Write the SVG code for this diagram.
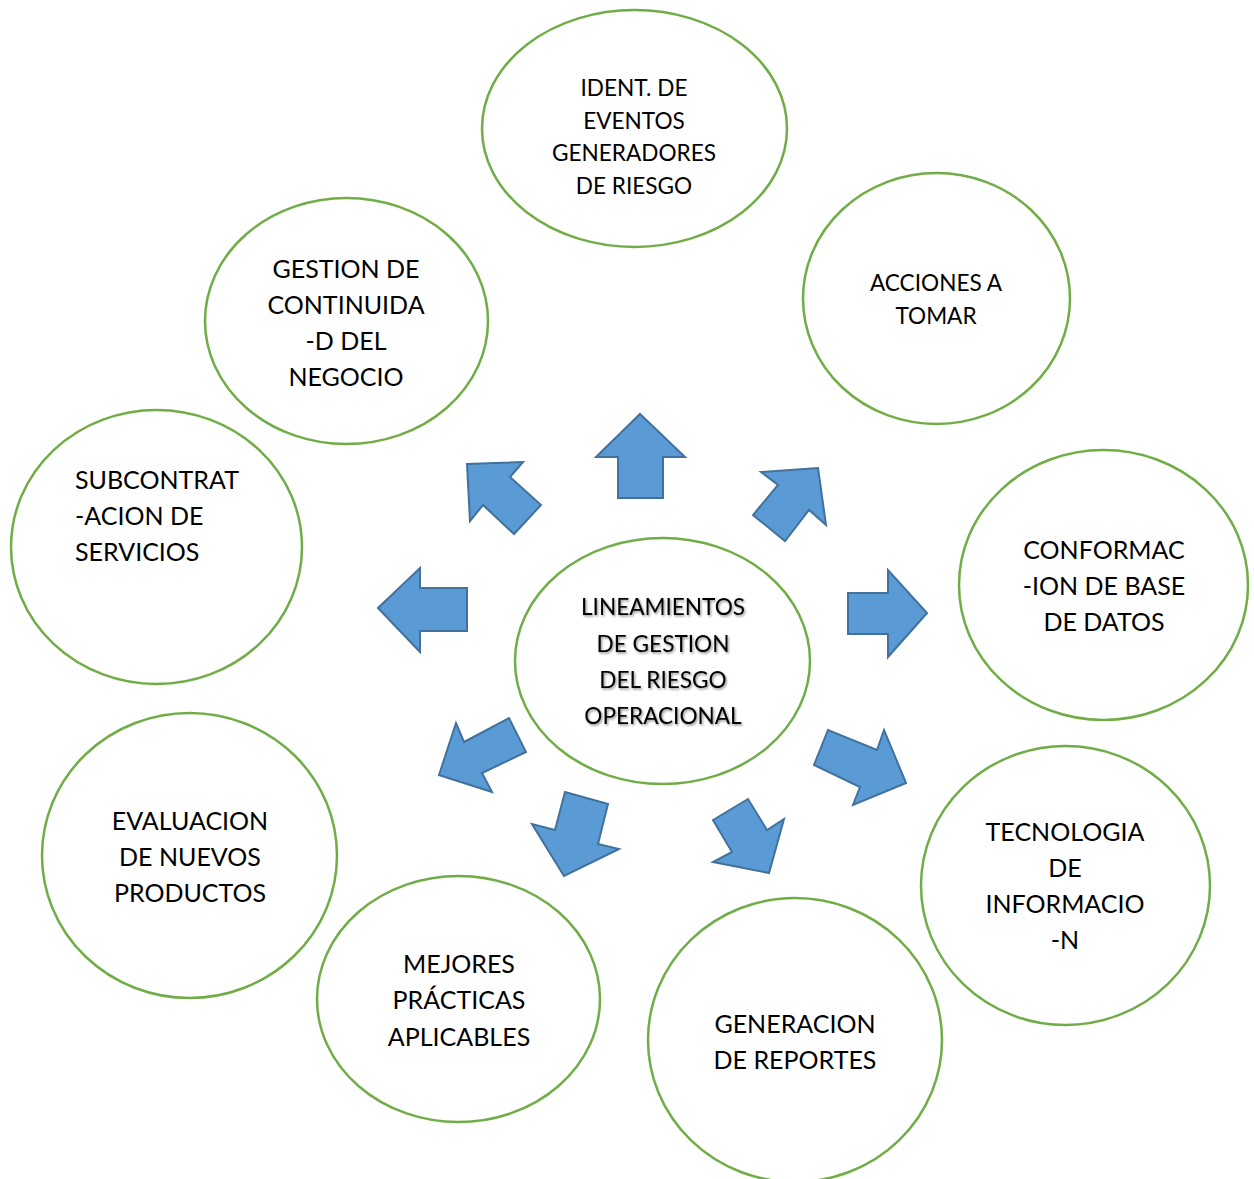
<svg xmlns="http://www.w3.org/2000/svg" width="1254" height="1179" viewBox="0 0 1254 1179">
<defs>
<filter id="sh" x="-10%" y="-20%" width="120%" height="140%">
<feDropShadow dx="1.2" dy="1.5" stdDeviation="0.9" flood-color="#000" flood-opacity="0.45"/>
</filter>
</defs>
<style>
.n ellipse{fill:#fff;stroke:#70AD47;stroke-width:2.5}
.t{font-family:Lato,"Open Sans","Liberation Sans",sans-serif;font-size:25px;fill:#000;text-anchor:middle}
.m{font-size:22.6px}
.l{text-anchor:start}
#arrows polygon{fill:#5B9BD5;stroke:#41719C;stroke-width:2;stroke-linejoin:miter}
</style>
<rect width="1254" height="1179" fill="#fff"/>
<g id="n-ident" class="n"><ellipse cx="634.5" cy="128.5" rx="152.5" ry="118.5"/>
<text class="t m" x="634" y="96">IDENT. DE</text>
<text class="t m" x="634" y="129">EVENTOS</text>
<text class="t m" x="634" y="161">GENERADORES</text>
<text class="t m" x="634" y="194">DE RIESGO</text></g>
<g id="n-acciones" class="n"><ellipse cx="936.5" cy="298.5" rx="133.5" ry="125.5"/>
<text class="t m" x="936" y="291">ACCIONES A</text>
<text class="t m" x="936" y="324">TOMAR</text></g>
<g id="n-gestion" class="n"><ellipse cx="346.5" cy="321" rx="141.5" ry="123"/>
<text class="t" x="346" y="278">GESTION DE</text>
<text class="t" x="346" y="314">CONTINUIDA</text>
<text class="t" x="346" y="350">-D DEL</text>
<text class="t" x="346" y="386">NEGOCIO</text></g>
<g id="n-subcontrat" class="n"><ellipse cx="156.5" cy="547" rx="145.5" ry="137"/>
<text class="t l" x="75" y="489">SUBCONTRAT</text>
<text class="t l" x="75" y="525">-ACION DE</text>
<text class="t l" x="75" y="561">SERVICIOS</text></g>
<g id="n-conformac" class="n"><ellipse cx="1103.5" cy="585" rx="144.5" ry="135"/>
<text class="t" x="1104" y="559">CONFORMAC</text>
<text class="t" x="1104" y="595">-ION DE BASE</text>
<text class="t" x="1104" y="631">DE DATOS</text></g>
<g id="n-center" class="n"><ellipse cx="662.5" cy="661" rx="147.5" ry="123"/>
<g filter="url(#sh)">
<text class="t m" x="663" y="615">LINEAMIENTOS</text>
<text class="t m" x="663" y="652">DE GESTION</text>
<text class="t m" x="663" y="688">DEL RIESGO</text>
<text class="t m" x="663" y="724">OPERACIONAL</text></g></g>
<g id="n-evaluacion" class="n"><ellipse cx="189.5" cy="855.5" rx="147.5" ry="142.5"/>
<text class="t" x="190" y="830">EVALUACION</text>
<text class="t" x="190" y="866">DE NUEVOS</text>
<text class="t" x="190" y="902">PRODUCTOS</text></g>
<g id="n-tecnologia" class="n"><ellipse cx="1065.5" cy="885.5" rx="144.5" ry="139.5"/>
<text class="t" x="1065" y="841">TECNOLOGIA</text>
<text class="t" x="1065" y="877">DE</text>
<text class="t" x="1065" y="913">INFORMACIO</text>
<text class="t" x="1065" y="949">-N</text></g>
<g id="n-mejores" class="n"><ellipse cx="458.5" cy="999" rx="141.5" ry="123"/>
<text class="t" x="459" y="973">MEJORES</text>
<text class="t" x="459" y="1009">PRÁCTICAS</text>
<text class="t" x="459" y="1046">APLICABLES</text></g>
<g id="n-generacion" class="n"><ellipse cx="795" cy="1040" rx="147" ry="142"/>
<text class="t" x="795" y="1033">GENERACION</text>
<text class="t" x="795" y="1069">DE REPORTES</text></g>
<g id="arrows">
<polygon points="640,414 685,457 663,457 663,498 618,498 618,457 596,457"/>
<polygon points="467,464 523,462 510,477 541,505 514,534 483,505 470,521"/>
<polygon points="818,468 826,525 809,510 785,541 753,515 778,485 761,472"/>
<polygon points="927,613 888,657 888,634 848,634 848,593 888,593 888,570"/>
<polygon points="378,608 420,568 420,588 467,588 467,631 420,631 420,652"/>
<polygon points="439,775 456,723 464,742 509,718 526,752 482,773 492,792"/>
<polygon points="564,876 532,824 555,830 565,792 608,804 598,844 619,849"/>
<polygon points="769,873 713,862 732,852 713,820 748,799 767,830 784,819"/>
<polygon points="906,783 853,805 860,787 814,765 828,730 877,750 884,730"/>
</g>
</svg>
